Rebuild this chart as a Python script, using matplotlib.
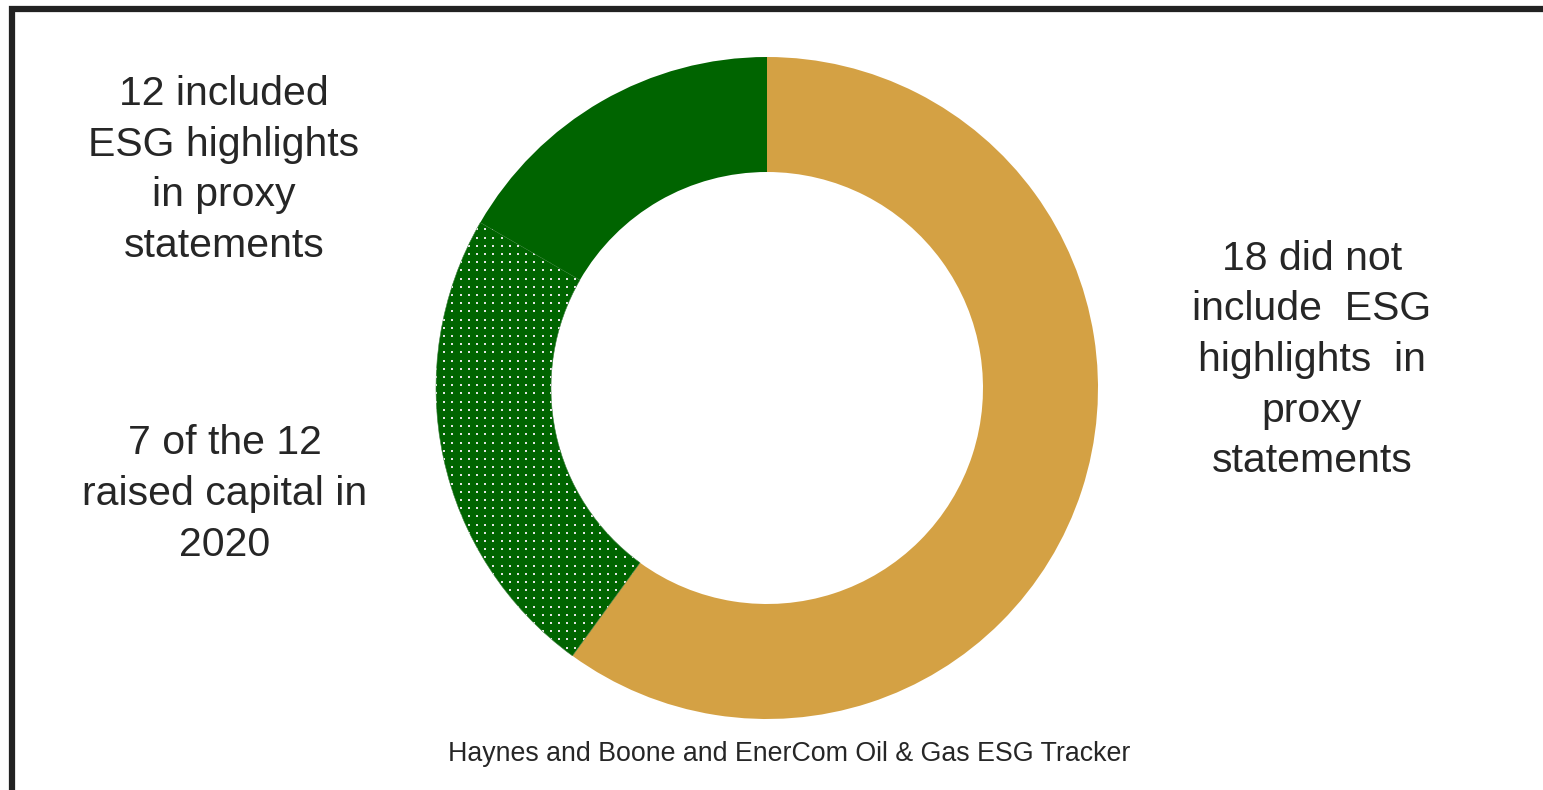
import matplotlib
matplotlib.use("Agg")
import numpy as np
import matplotlib.pyplot as plt
from matplotlib.patches import Rectangle

plt.rcParams['font.family'] = ['Liberation Sans', 'DejaVu Sans']

# Proxy statement breakdown (30 companies)
segments = ["Did not include ESG highlights", "Included, raised capital in 2020", "Included, other"]
counts = [18, 7, 5]
colors = ["#D4A144", "#006400", "#006400"]
dotted = [False, True, False]

labels_left_top = "12 included\nESG highlights\nin proxy\nstatements"
labels_left_bottom = "7 of the 12\nraised capital in\n2020"
labels_right = "18 did not\ninclude  ESG\nhighlights  in\nproxy\nstatements"
source = "Haynes and Boone and EnerCom Oil & Gas ESG Tracker"

W, H = 1543, 790
fig = plt.figure(figsize=(W / 100, H / 100), dpi=100)
ax = fig.add_axes([0, 0, 1, 1])

wedges, _ = ax.pie(counts, colors=colors, startangle=90, counterclock=False,
                   center=(767, H - 388), radius=331,
                   wedgeprops=dict(width=115, linewidth=0))

ax.set_xlim(0, W)
ax.set_ylim(0, H)
ax.set_aspect('equal')
ax.axis('off')

# Fine dot texture for the dotted segment, clipped to its wedge
fig.canvas.draw()
for w, d in zip(wedges, dotted):
    if not d:
        continue
    w.set_edgecolor('#3F7F3F')
    w.set_linewidth(0.4)
    bb = w.get_window_extent().transformed(ax.transData.inverted())
    gx, gy = np.meshgrid(np.arange(bb.x0, bb.x1 + 8, 8.2),
                         np.arange(bb.y0, bb.y1 + 8, 8.2))
    sc = ax.scatter(gx.ravel(), gy.ravel(), s=2.6, marker='s',
                    color='#E4E4E4', linewidths=0, zorder=3)
    sc.set_clip_path(w)

text_color = '#262626'
ax.text(224, H - 170, labels_left_top, ha='center', va='center', fontsize=29.5,
        color=text_color, linespacing=1.42)
ax.text(225, H - 494, labels_left_bottom, ha='center', va='center', fontsize=29.5,
        color=text_color, linespacing=1.42)
ax.text(1312, H - 360, labels_right, ha='center', va='center', fontsize=29.5,
        color=text_color, linespacing=1.42)
ax.text(789, H - 754, source, ha='center', va='center', fontsize=19.3,
        color=text_color)

# Frame around the chart (right and bottom run off the canvas)
fig.patches.append(Rectangle((12 / W, -0.1), 1.2, (H - 9) / H + 0.1,
                             transform=fig.transFigure, fill=False,
                             edgecolor='#222222', linewidth=4.5))

fig.savefig("out.png", dpi=100, facecolor='white')
